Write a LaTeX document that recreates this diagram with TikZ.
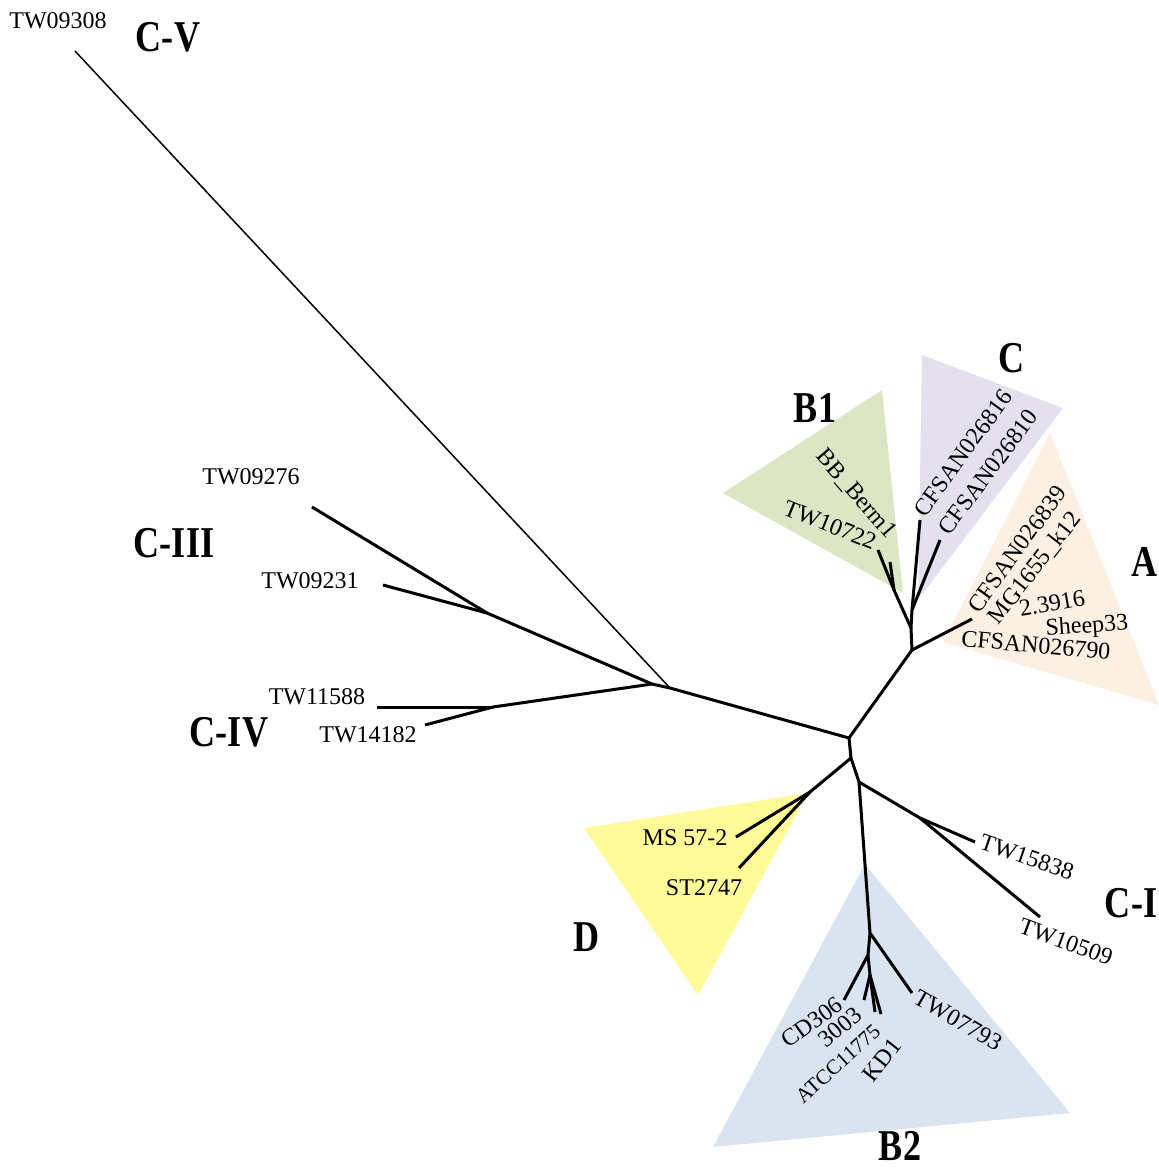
\documentclass[tikz,border=0pt]{standalone}
\usepackage{fontspec}
\setmainfont{Liberation Serif}
\definecolor{fillBone}{HTML}{DCE6C5}
\definecolor{fillC}{HTML}{E4E0EE}
\definecolor{fillA}{HTML}{FCF0E3}
\definecolor{fillD}{HTML}{FFFB99}
\definecolor{fillBtwo}{HTML}{DAE3F0}

\begin{document}
\begin{tikzpicture}[x=0.5pt,y=-0.5pt,
    branch/.style={line width=1.5pt},
    leaf/.style={font=\fontsize{12}{14}\selectfont, inner sep=0pt},
    clade/.style={font=\bfseries\fontsize{22}{26}\selectfont, inner sep=0pt}]
    \useasboundingbox (0,0) rectangle (1159,1169);

    % clade shading
    \fill[fillBone] (882,390) -- (723,493) -- (903,593) -- cycle;
    \fill[fillC] (922,355) -- (1063,408) -- (918,600) -- cycle;
    \fill[fillA] (1050,433) -- (1159,705) -- (943,642) -- cycle;
    \fill[fillD] (584,828) -- (808,793) -- (698,995) -- cycle;
    \fill[fillBtwo] (865,864) -- (1070,1113) -- (713,1147) -- cycle;

    % inner nodes
    \coordinate (h1) at (652,684);
    \coordinate (h2) at (670,688);
    \coordinate (h3) at (849,738);
    \coordinate (h4) at (912,650);
    \coordinate (h5) at (911,628);
    \coordinate (h6) at (851,758);
    \coordinate (h7) at (859,782);
    \coordinate (hB1) at (894,590);
    \coordinate (hC) at (912,610);
    \coordinate (hD) at (810,792);
    \coordinate (hCI) at (920,818);
    \coordinate (hB2a) at (870,933);
    \coordinate (hB2b) at (868,955);
    \coordinate (hB2c) at (870,975);
    \coordinate (hCIII) at (487,613);
    \coordinate (hCIV) at (493,707);

    % tips
    \coordinate (tCV) at (75,51);
    \coordinate (t09276) at (312,507);
    \coordinate (t09231) at (383,585);
    \coordinate (t11588) at (377,707);
    \coordinate (t14182) at (425,725);
    \coordinate (t10722) at (878,550);
    \coordinate (tBerm) at (890,562);
    \coordinate (t26816) at (920,520);
    \coordinate (t26810) at (940,540);
    \coordinate (tA) at (972,619);
    \coordinate (tMS) at (736,837);
    \coordinate (tST) at (739,868);
    \coordinate (t15838) at (975,842);
    \coordinate (t10509) at (1040,917);
    \coordinate (t07793) at (912,993);
    \coordinate (tCD) at (844,1000);
    \coordinate (t3003) at (864,1000);
    \coordinate (tATCC) at (875,1012);
    \coordinate (tKD) at (881,1014);

    % branches
    \draw[line width=0.75pt] (tCV) -- (h2);
    \draw[branch] (h1) -- (h2) -- (h3) -- (h4) -- (h5);
    \draw[branch] (hCIII) -- (h1);
    \draw[branch] (hCIII) -- (t09276);
    \draw[branch] (hCIII) -- (t09231);
    \draw[branch] (hCIV) -- (h1);
    \draw[branch] (hCIV) -- (t11588);
    \draw[branch] (hCIV) -- (t14182);
    \draw[branch] (h5) -- (hB1) -- (t10722);
    \draw[branch] (hB1) -- (tBerm);
    \draw[branch] (h5) -- (hC) -- (t26816);
    \draw[branch] (hC) -- (t26810);
    \draw[branch] (h4) -- (tA);
    \draw[branch] (h3) -- (h6);
    \draw[branch] (h6) -- (hD);
    \draw[branch] (hD) -- (tMS);
    \draw[branch] (hD) -- (tST);
    \draw[branch] (h6) -- (h7);
    \draw[branch] (h7) -- (hCI) -- (t15838);
    \draw[branch] (hCI) -- (t10509);
    \draw[branch] (h7) -- (hB2a) -- (t07793);
    \draw[branch] (hB2a) -- (hB2b) -- (tCD);
    \draw[branch] (hB2b) -- (hB2c) -- (t3003);
    \draw[branch] (hB2c) -- (tATCC);
    \draw[branch] (hB2c) -- (tKD);

    % leaf names
    \node[leaf] (tw09308) at (58,21) {TW09308};
    \node[leaf] (tw09276) at (251,477) {TW09276};
    \node[leaf] (tw09231) at (310,581) {TW09231};
    \node[leaf] (tw11588) at (317,697) {TW11588};
    \node[leaf] (tw14182) at (368,735) {TW14182};
    \node[leaf, rotate=-22] (tw10722) at (830,525) {TW10722};
    \node[leaf, rotate=-49] (bberm) at (856,494) {BB\_Berm1};
    \node[leaf, rotate=54] (cf26816) at (963,453) {CFSAN026816};
    \node[leaf, rotate=53] (cf26810) at (988,472) {CFSAN026810};
    \node[leaf, rotate=54] (cf26839) at (1017,549) {CFSAN026839};
    \node[leaf, rotate=52] (mg1655) at (1035,568) {MG1655\_k12};
    \node[leaf, rotate=10] (s23916) at (1052,603) {2.3916};
    \node[leaf, rotate=4] (sheep) at (1087,627) {Sheep33};
    \node[leaf, rotate=-5] (cf26790) at (1036,645) {CFSAN026790};
    \node[leaf] (ms572) at (685,838) {MS 57-2};
    \node[leaf] (st2747) at (704,888) {ST2747};
    \node[leaf, rotate=-19] (tw15838) at (1027,857) {TW15838};
    \node[leaf, rotate=-20] (tw10509) at (1066,942) {TW10509};
    \node[leaf, rotate=-30] (tw07793) at (958,1020) {TW07793};
    \node[leaf, rotate=36] (cd306) at (812,1022) {CD306};
    \node[leaf, rotate=40] (s3003) at (840,1027) {3003};
    \node[leaf, rotate=42, font=\fontsize{10.5}{12}\selectfont] (atcc) at (838,1064) {ATCC11775};
    \node[leaf, rotate=52] (kd1) at (882,1060) {KD1};

    % clade names
    \node[clade] (cV) at (168,37) {\scalebox{0.82}[1]{C-V}};
    \node[clade] (cIII) at (174,543) {\scalebox{0.82}[1]{C-III}};
    \node[clade] (cIV) at (229,732) {\scalebox{0.82}[1]{C-IV}};
    \node[clade] (cBone) at (815,408) {\scalebox{0.82}[1]{B1}};
    \node[clade] (cC) at (1012,358) {\scalebox{0.82}[1]{C}};
    \node[clade] (cA) at (1145,562) {\scalebox{0.82}[1]{A}};
    \node[clade] (cI) at (1131,903) {\scalebox{0.82}[1]{C-I}};
    \node[clade] (cD) at (587,937) {\scalebox{0.82}[1]{D}};
    \node[clade] (cBtwo) at (900,1146) {\scalebox{0.82}[1]{B2}};
  \end{tikzpicture}
\end{document}
